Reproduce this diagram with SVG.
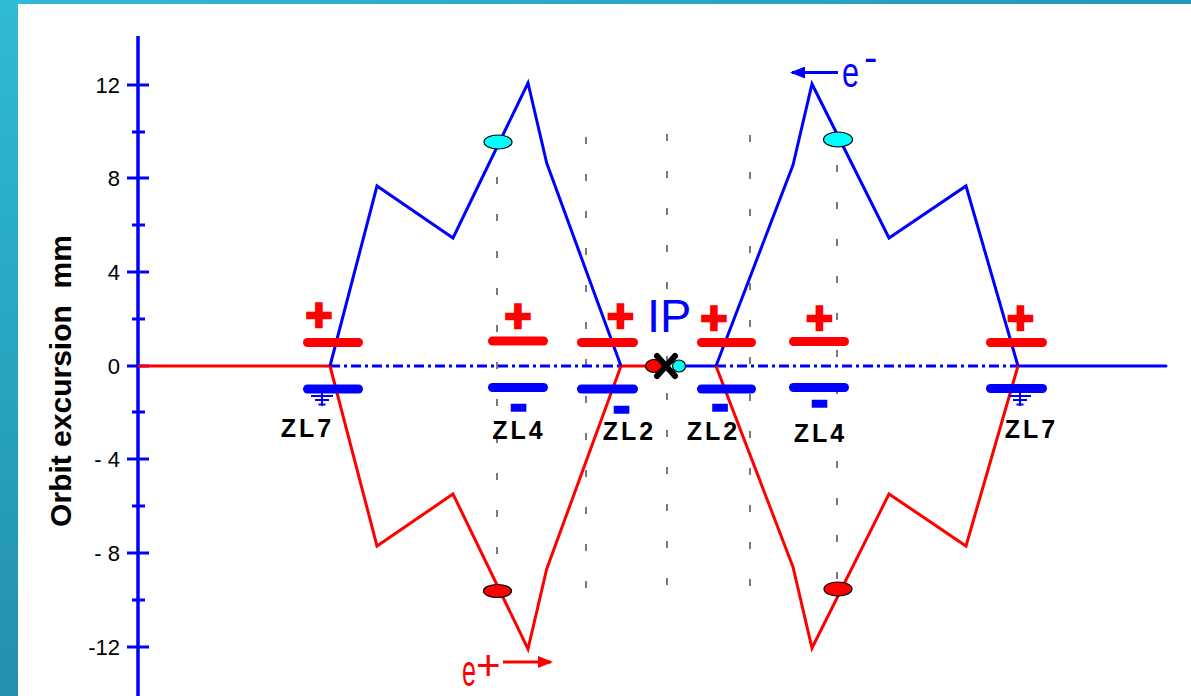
<svg xmlns="http://www.w3.org/2000/svg" width="1191" height="696" viewBox="0 0 1191 696">
<defs>
<linearGradient id="gTop" x1="0" y1="0" x2="1" y2="0"><stop offset="0" stop-color="#2fbad6"/><stop offset="1" stop-color="#2497b7"/></linearGradient>
<linearGradient id="gLeft" x1="0" y1="0" x2="0" y2="1"><stop offset="0" stop-color="#2fbad6"/><stop offset="1" stop-color="#2290ae"/></linearGradient>
<marker id="arrB" markerWidth="15" markerHeight="12" refX="13" refY="6" orient="auto" markerUnits="userSpaceOnUse"><path d="M0,0 L15,6 L0,12 Z" fill="#0000ff"/></marker>
<marker id="arrR" markerWidth="15" markerHeight="12" refX="13" refY="6" orient="auto" markerUnits="userSpaceOnUse"><path d="M0,0 L15,6 L0,12 Z" fill="#ff0000"/></marker>
<style>
.ax{stroke:#0000ff;stroke-width:3.5;fill:none}
.tk{stroke:#0000ff;stroke-width:3}
.tl{font-family:"Liberation Sans",Arial,sans-serif;font-size:22px;fill:#000;text-anchor:end}
.pr{stroke:#ff0000;stroke-width:9;stroke-linecap:round}
.pb{stroke:#0000ff;stroke-width:9;stroke-linecap:round}
.plus{font-family:"Liberation Sans",Arial,sans-serif;font-weight:bold;font-size:46px;fill:#ff0000;stroke:#ff0000;stroke-width:2.5;text-anchor:middle}
.minus{font-family:"Liberation Sans",Arial,sans-serif;font-weight:bold;font-size:56px;fill:#0000ff;stroke:#0000ff;stroke-width:1.4;text-anchor:middle}
.zl{font-family:"Liberation Sans",Arial,sans-serif;font-weight:bold;font-size:25px;fill:#000;text-anchor:middle;letter-spacing:3px}
.gnd{stroke:#0000ff;stroke-width:2}
.ob{stroke:#0000ff;stroke-width:3;fill:none;stroke-linejoin:miter}
.or{stroke:#ff0000;stroke-width:3;fill:none;stroke-linejoin:miter}
.dv{stroke:#333;stroke-width:1.3;stroke-dasharray:7 30}
.spot{stroke:#000;stroke-width:1.2}
</style>
</defs>
<rect x="0" y="0" width="1191" height="696" fill="#ffffff"/>
<rect x="0" y="0" width="1191" height="4" fill="url(#gTop)"/>
<rect x="0" y="0" width="18" height="696" fill="url(#gLeft)"/>

<g id="axis">
<line class="ax" x1="138" y1="36" x2="138" y2="696"/>
<g class="tk">
<line x1="127" y1="85" x2="149" y2="85"/><line x1="127" y1="178" x2="149" y2="178"/><line x1="127" y1="272" x2="149" y2="272"/><line x1="127" y1="366" x2="149" y2="366"/><line x1="127" y1="459" x2="149" y2="459"/><line x1="127" y1="553" x2="149" y2="553"/><line x1="127" y1="647" x2="149" y2="647"/>
<line x1="132" y1="132" x2="145" y2="132"/><line x1="132" y1="225" x2="145" y2="225"/><line x1="132" y1="319" x2="145" y2="319"/><line x1="132" y1="412" x2="145" y2="412"/><line x1="132" y1="506" x2="145" y2="506"/><line x1="132" y1="600" x2="145" y2="600"/>
</g>
<text class="tl" x="120" y="93">12</text>
<text class="tl" x="120" y="186">8</text>
<text class="tl" x="120" y="280">4</text>
<text class="tl" x="120" y="374">0</text>
<text class="tl" x="120" y="467">- 4</text>
<text class="tl" x="120" y="561">- 8</text>
<text class="tl" x="120" y="655">-12</text>
<text x="0" y="0" transform="translate(71,381) rotate(-90)" font-family="Liberation Sans, Arial, sans-serif" font-weight="bold" font-size="30" text-anchor="middle" fill="#000">Orbit excursion&#160; mm</text>
</g>

<g id="guides">
<line class="dv" x1="497" y1="140" x2="497" y2="605"/>
<line class="dv" x1="586" y1="137" x2="586" y2="605"/>
<line class="dv" x1="667" y1="134" x2="667" y2="605"/>
<line class="dv" x1="750" y1="135" x2="750" y2="605"/>
<line class="dv" x1="837" y1="165" x2="837" y2="605"/>
</g>

<g id="connectors">
<line x1="138" y1="366" x2="330" y2="366" stroke="#ff0000" stroke-width="3"/>
<line x1="330" y1="366" x2="621" y2="366" stroke="#0000ff" stroke-width="3" stroke-dasharray="10 4 3 4"/>
<line x1="716" y1="366" x2="1018" y2="366" stroke="#0000ff" stroke-width="3" stroke-dasharray="10 4 3 4"/>
<line x1="1018" y1="366" x2="1166" y2="366" stroke="#0000ff" stroke-width="3" stroke-linecap="round"/>
<line x1="621" y1="366" x2="650" y2="366" stroke="#ff0000" stroke-width="3"/>
<line x1="682" y1="366" x2="716" y2="366" stroke="#0000ff" stroke-width="3"/>
<polyline class="ob" points="330,366 377,186 453,238 528,83 546.7,163 621,366"/>
<polyline class="ob" points="716,366 793,165 812,84 889,238 966,186 1018,366"/>
<polyline class="or" points="330,366 377,546 453,494 528,649 546.7,569 621,366"/>
<polyline class="or" points="716,366 793,567 812,648 889,494 966,546 1018,366"/>
<line x1="838" y1="72.5" x2="792" y2="72.5" stroke="#0000ff" stroke-width="3" marker-end="url(#arrB)"/>
<line x1="503" y1="662" x2="551" y2="662" stroke="#ff0000" stroke-width="3" marker-end="url(#arrR)"/>
</g>

<g id="ZL7-left">
<text class="plus" x="319" y="331">+</text>
<line class="pr" x1="307.5" y1="342.5" x2="358.5" y2="342.5"/>
<line class="pb" x1="307.5" y1="389" x2="358.5" y2="389"/>
<g class="gnd"><line x1="322" y1="390" x2="322" y2="406"/><line x1="311" y1="396" x2="333" y2="396"/><line x1="315" y1="400" x2="329" y2="400"/><line x1="318.5" y1="404.5" x2="325.5" y2="404.5"/></g>
<text class="zl" x="307.5" y="437">ZL7</text>
</g>

<g id="ZL4-left">
<text class="plus" x="518" y="332">+</text>
<line class="pr" x1="492.5" y1="341" x2="543.5" y2="341"/>
<line class="pb" x1="492.5" y1="387.5" x2="543.5" y2="387.5"/>
<text class="minus" x="518.5" y="421.5">-</text>
<text class="zl" x="519" y="439">ZL4</text>
</g>

<g id="ZL2-left">
<text class="plus" x="620.5" y="332">+</text>
<line class="pr" x1="581.5" y1="342.5" x2="633.5" y2="342.5"/>
<line class="pb" x1="581.5" y1="389" x2="633.5" y2="389"/>
<text class="minus" x="621.5" y="423.5">-</text>
<text class="zl" x="629.5" y="440">ZL2</text>
</g>

<g id="IP">
<text x="647" y="332" font-family="Liberation Sans, Arial, sans-serif" font-size="47" fill="#0000ff">IP</text>
<ellipse class="spot" cx="654" cy="366" rx="8.5" ry="6.5" fill="#ff0000"/>
<ellipse class="spot" cx="679" cy="366" rx="6.5" ry="6" fill="#00ffff"/>
<g stroke="#000" stroke-width="6" stroke-linecap="round"><line x1="657" y1="356" x2="675" y2="376"/><line x1="675" y1="356" x2="657" y2="376"/></g>
</g>

<g id="ZL2-right">
<text class="plus" x="714" y="334">+</text>
<line class="pr" x1="701.5" y1="342.5" x2="751.5" y2="342.5"/>
<line class="pb" x1="701.5" y1="389" x2="751.5" y2="389"/>
<text class="minus" x="720" y="421.5">-</text>
<text class="zl" x="713.5" y="440">ZL2</text>
</g>

<g id="ZL4-right">
<text class="plus" x="819.5" y="334">+</text>
<line class="pr" x1="793.5" y1="341.5" x2="844.5" y2="341.5"/>
<line class="pb" x1="793.5" y1="387.5" x2="844.5" y2="387.5"/>
<text class="minus" x="819.5" y="418">-</text>
<text class="zl" x="820.5" y="442">ZL4</text>
</g>

<g id="ZL7-right">
<text class="plus" x="1020.5" y="334">+</text>
<line class="pr" x1="990.5" y1="342.5" x2="1042.5" y2="342.5"/>
<line class="pb" x1="990.5" y1="388.5" x2="1042.5" y2="388.5"/>
<g class="gnd"><line x1="1020" y1="390" x2="1020" y2="406"/><line x1="1009" y1="396" x2="1031" y2="396"/><line x1="1013" y1="400" x2="1027" y2="400"/><line x1="1016.5" y1="404.5" x2="1023.5" y2="404.5"/></g>
<text class="zl" x="1031.5" y="438">ZL7</text>
</g>

<g id="beam-spots">
<ellipse class="spot" cx="498" cy="142" rx="14" ry="7" fill="#00ffff"/>
<ellipse class="spot" cx="838" cy="139.5" rx="14.5" ry="7.5" fill="#00ffff"/>
<ellipse class="spot" cx="497.5" cy="591" rx="14" ry="6.5" fill="#ff0000"/>
<ellipse class="spot" cx="838" cy="589" rx="14" ry="7" fill="#ff0000"/>
</g>

<g id="e-minus">
<text x="842" y="87" font-family="Liberation Sans, Arial, sans-serif" font-size="42" fill="#0000ff"><tspan textLength="17" lengthAdjust="spacingAndGlyphs">e</tspan><tspan dx="5" dy="-16" font-size="40">-</tspan></text>
</g>
<g id="e-plus">
<text x="462" y="686" font-family="Liberation Sans, Arial, sans-serif" font-size="45" fill="#ff0000"><tspan textLength="14" lengthAdjust="spacingAndGlyphs">e</tspan><tspan dx="0" dy="-6" font-size="42">+</tspan></text>
</g>
</svg>
